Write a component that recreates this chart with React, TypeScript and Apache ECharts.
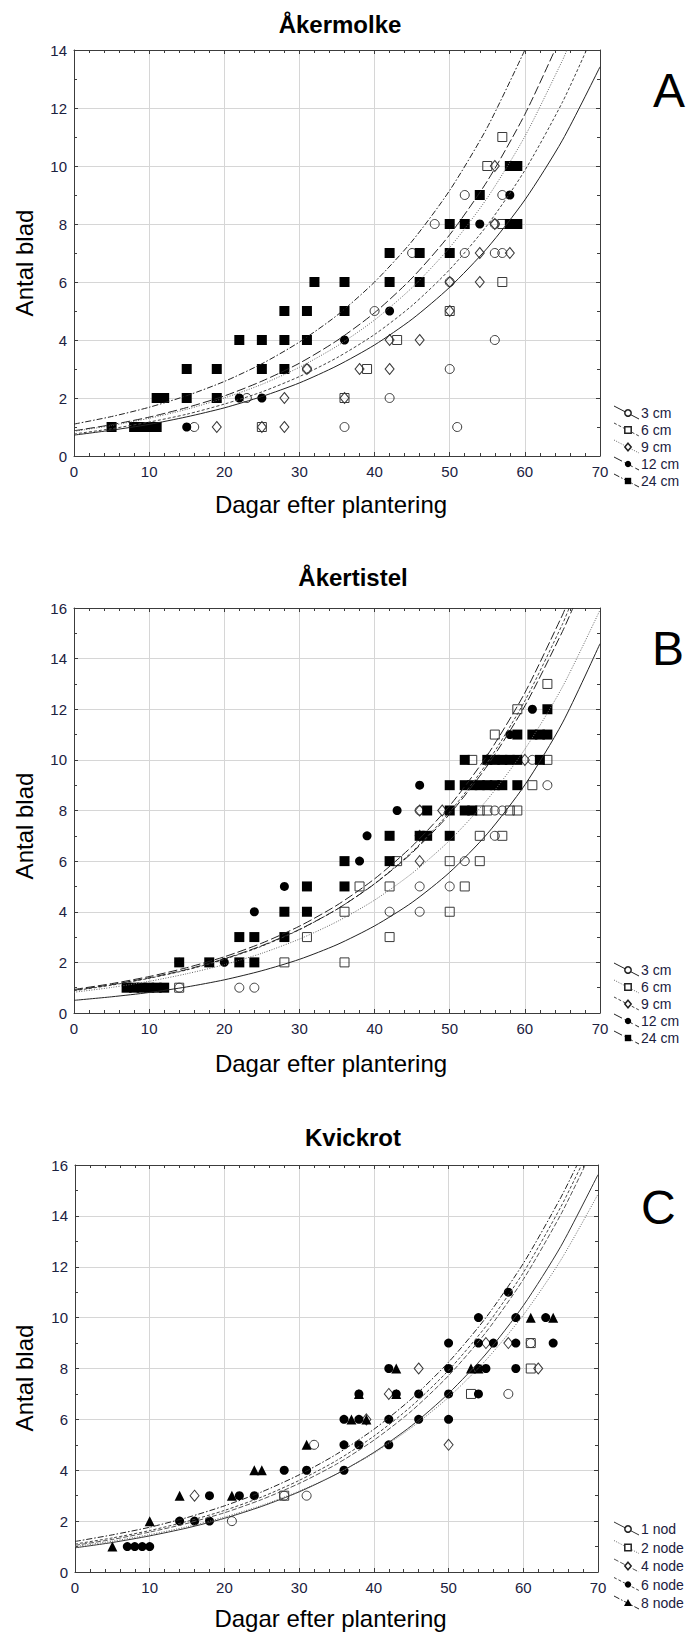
import React, { useEffect, useRef } from "react";
import * as echarts from "echarts";

type P = [number, number];

// ---------- Panel A: Åkermolke ----------
const A_3cm: P[] = [[16,1],[36,1],[51,1],[23,2],[42,2],[31,3],[50,3],[56,4],[40,5],[50,6],[45,7],[52,7],[56,7],[57,7],[48,8],[56,8],[52,9],[57,9]];
const A_6cm: P[] = [[25,1],[36,2],[39,3],[43,4],[50,5],[57,6],[57,8],[55,10],[57,11]];
const A_9cm: P[] = [[19,1],[25,1],[28,1],[28,2],[36,2],[31,3],[38,3],[42,3],[42,4],[46,4],[50,5],[50,6],[54,6],[54,7],[58,7],[56,8],[56,10]];
const A_12cm: P[] = [[15,1],[22,2],[25,2],[36,4],[42,5],[54,8],[58,9],[58,10]];
const A_24cm: P[] = [[5,1],[8,1],[9,1],[10,1],[11,1],[11,2],[12,2],[15,2],[19,2],[15,3],[19,3],[25,3],[28,3],[22,4],[25,4],[28,4],[31,4],[28,5],[31,5],[36,5],[32,6],[36,6],[42,6],[46,6],[42,7],[46,7],[50,7],[50,8],[52,8],[58,8],[59,8],[54,9],[58,10],[59,10]];
const A_fit3cm: P[] = [[0,0.72],[5,0.89],[10,1.09],[15,1.35],[20,1.66],[25,2.05],[30,2.52],[35,3.11],[40,3.83],[45,4.72],[50,5.82],[55,7.17],[60,8.83],[65,10.89],[70,13.42]];
const A_fit6cm: P[] = [[0,0.76],[5,0.94],[10,1.17],[15,1.44],[20,1.79],[25,2.21],[30,2.74],[35,3.39],[40,4.19],[45,5.19],[50,6.43],[55,7.96],[60,9.85],[65,12.2],[68.2,14]];
const A_fit9cm: P[] = [[0,0.85],[5,1.05],[10,1.30],[15,1.61],[20,2.0],[25,2.47],[30,3.06],[35,3.79],[40,4.69],[45,5.81],[50,7.19],[55,8.9],[60,11.02],[65,13.64],[65.6,14]];
const A_fit12cm: P[] = [[0,0.87],[5,1.08],[10,1.34],[15,1.67],[20,2.07],[25,2.58],[30,3.20],[35,3.98],[40,4.94],[45,6.14],[50,7.63],[55,9.48],[60,11.78],[64,14]];
const A_fit24cm: P[] = [[0,1.10],[5,1.36],[10,1.68],[15,2.08],[20,2.57],[25,3.18],[30,3.93],[35,4.85],[40,6.0],[45,7.41],[50,9.16],[55,11.33],[60,14]];

// ---------- Panel B: Åkertistel ----------
const B_3cm: P[] = [[14,1],[22,1],[24,1],[42,4],[46,4],[46,5],[50,5],[52,6],[56,7],[46,8],[56,8],[57,8],[63,9],[61,10]];
const B_6cm: P[] = [[14,1],[28,2],[36,2],[31,3],[42,3],[36,4],[50,4],[38,5],[42,5],[52,5],[43,6],[50,6],[54,6],[54,7],[57,7],[54,8],[55,8],[58,8],[59,8],[61,9],[53,10],[63,10],[56,11],[59,12],[63,13]];
const B_9cm: P[] = [[46,6],[46,7],[46,8],[49,8],[55,10],[60,10]];
const B_12cm: P[] = [[14,2],[20,2],[24,4],[28,5],[38,6],[39,7],[43,8],[46,9],[58,11],[61,12]];
const B_24cm: P[] = [[7,1],[8,1],[9,1],[10,1],[11,1],[12,1],[14,2],[18,2],[22,2],[24,2],[22,3],[24,3],[28,3],[28,4],[31,4],[31,5],[36,5],[36,6],[42,6],[42,7],[46,7],[47,7],[50,7],[47,8],[50,8],[52,8],[53,8],[50,9],[52,9],[53,9],[54,9],[55,9],[56,9],[57,9],[59,9],[52,10],[55,10],[56,10],[57,10],[58,10],[59,10],[62,10],[59,11],[61,11],[62,11],[63,11],[63,12]];
const B_fit3cm: P[] = [[0,0.5],[5,0.64],[10,0.81],[15,1.03],[20,1.31],[25,1.67],[30,2.12],[35,2.70],[40,3.44],[45,4.37],[50,5.56],[55,7.08],[60,9.01],[65,11.46],[70,14.59]];
const B_fit6cm: P[] = [[0,0.82],[5,1.01],[10,1.25],[15,1.55],[20,1.91],[25,2.36],[30,2.92],[35,3.61],[40,4.46],[45,5.52],[50,6.82],[55,8.43],[60,10.42],[65,12.88],[70,15.92]];
const B_fit9cm: P[] = [[0,0.88],[5,1.10],[10,1.37],[15,1.70],[20,2.12],[25,2.64],[30,3.29],[35,4.10],[40,5.11],[45,6.37],[50,7.94],[55,9.89],[60,12.33],[65,15.36],[65.9,16]];
const B_fit12cm: P[] = [[0,0.9],[5,1.12],[10,1.39],[15,1.72],[20,2.14],[25,2.66],[30,3.30],[35,4.10],[40,5.10],[45,6.33],[50,7.86],[55,9.77],[60,12.13],[65,15.07],[66.4,16]];
const B_fit24cm: P[] = [[0,0.93],[5,1.16],[10,1.44],[15,1.79],[20,2.22],[25,2.76],[30,3.43],[35,4.26],[40,5.30],[45,6.59],[50,8.19],[55,10.18],[60,12.65],[65,15.72],[65.4,16]];

// ---------- Panel C: Kvickrot ----------
const C_1nod: P[] = [[21,2],[28,3],[31,3],[32,5],[58,7],[61,9]];
const C_2node: P[] = [[28,3],[53,7],[61,8],[61,9]];
const C_4node: P[] = [[16,3],[39,6],[42,7],[46,8],[50,5],[55,9],[58,9],[62,8]];
const C_6node: P[] = [[7,1],[8,1],[9,1],[10,1],[14,2],[16,2],[18,2],[18,3],[22,3],[24,3],[28,4],[31,4],[36,4],[36,5],[38,5],[42,5],[36,6],[38,6],[42,6],[46,6],[50,6],[38,7],[43,7],[46,7],[50,7],[54,7],[42,8],[50,8],[54,8],[55,8],[59,8],[50,9],[54,9],[56,9],[59,9],[64,9],[54,10],[59,10],[63,10],[58,11]];
const C_8node: P[] = [[5,1],[10,2],[14,3],[21,3],[24,4],[25,4],[31,5],[37,6],[39,6],[38,7],[43,7],[43,8],[53,8],[54,8],[61,10],[64,10]];
const C_fit1nod: P[] = [[0,0.95],[5,1.16],[10,1.42],[15,1.73],[20,2.11],[25,2.58],[30,3.15],[35,3.85],[40,4.70],[45,5.74],[50,7.02],[55,8.57],[60,10.47],[65,12.79],[70,15.62]];
const C_fit2node: P[] = [[0,1.0],[5,1.21],[10,1.47],[15,1.78],[20,2.16],[25,2.62],[30,3.18],[35,3.85],[40,4.67],[45,5.67],[50,6.87],[55,8.33],[60,10.1],[65,12.25],[70,14.85]];
const C_fit4node: P[] = [[0,1.05],[5,1.28],[10,1.57],[15,1.91],[20,2.33],[25,2.85],[30,3.48],[35,4.24],[40,5.18],[45,6.32],[50,7.72],[55,9.42],[60,11.5],[65,14.04],[68.3,16]];
const C_fit6node: P[] = [[0,1.1],[5,1.34],[10,1.63],[15,1.99],[20,2.42],[25,2.95],[30,3.60],[35,4.38],[40,5.34],[45,6.51],[50,7.93],[55,9.66],[60,11.77],[65,14.34],[67.8,16]];
const C_fit8node: P[] = [[0,1.2],[5,1.46],[10,1.76],[15,2.14],[20,2.60],[25,3.15],[30,3.82],[35,4.63],[40,5.61],[45,6.80],[50,8.25],[55,10.0],[60,12.13],[65,14.71],[67.2,16]];

const xTicks = { min: 0, max: 70, interval: 10 };
const AXIS_TITLE_X = "Dagar efter plantering";
const AXIS_TITLE_Y = "Antal blad";

// ---------- styles ----------
const LABEL_COLOR = "#1b2140";
const SANS = "'Liberation Sans', Arial, sans-serif";

type MarkerKey = "oc" | "os" | "od" | "fc" | "fs" | "ft";
const OPEN = { color: "rgba(255,255,255,0)", borderColor: "#3a3a3a", borderWidth: 1, opacity: 1 };
const FILLED = { color: "#000", opacity: 1 };
const MARKERS: Record<MarkerKey, any> = {
  oc: { symbol: "circle", symbolSize: 9, itemStyle: OPEN },
  os: { symbol: "rect", symbolSize: 9, itemStyle: OPEN },
  od: { symbol: "diamond", symbolSize: [9, 11], itemStyle: OPEN },
  fc: { symbol: "circle", symbolSize: 9, itemStyle: FILLED },
  fs: { symbol: "rect", symbolSize: 10, itemStyle: FILLED },
  ft: { symbol: "triangle", symbolSize: 10, itemStyle: FILLED },
};

type LineStyle = { dash: number[] | "solid"; color: string; width?: number };
const L_SOLID: LineStyle = { dash: "solid", color: "#222" };
const L_SOLID2: LineStyle = { dash: "solid", color: "#333" };
const L_SHORT: LineStyle = { dash: [3, 2], color: "#444" };
const L_DOT: LineStyle = { dash: [1, 1.5], color: "#666" };
const L_LONG: LineStyle = { dash: [9, 3], color: "#222" };
const L_DASHDOT: LineStyle = { dash: [6, 2, 1.5, 2], color: "#222" };
const L_MED: LineStyle = { dash: [5, 2], color: "#555" };

type SeriesDef = { name: string; points: P[]; fit: P[]; marker: MarkerKey; line: LineStyle };
type PanelDef = {
  grid: { left: number; top: number; width: number; height: number };
  ymax: number;
  title: string; titleX: number; titleY: number;
  xTitleY: number; yTitleY: number;
  letter: string; letterX: number; letterY: number;
  legendY0: number; legendStep: number;
  series: SeriesDef[];
};

const PANELS: PanelDef[] = [
  {
    grid: { left: 74, top: 50, width: 526, height: 406 }, ymax: 14,
    title: "Åkermolke", titleX: 340, titleY: 24, xTitleY: 504, yTitleY: 263,
    letter: "A", letterX: 653, letterY: 90, legendY0: 413, legendStep: 17,
    series: [
      { name: "3 cm", points: A_3cm, fit: A_fit3cm, marker: "oc", line: L_SOLID },
      { name: "6 cm", points: A_6cm, fit: A_fit6cm, marker: "os", line: L_SHORT },
      { name: "9 cm", points: A_9cm, fit: A_fit9cm, marker: "od", line: L_DOT },
      { name: "12 cm", points: A_12cm, fit: A_fit12cm, marker: "fc", line: L_LONG },
      { name: "24 cm", points: A_24cm, fit: A_fit24cm, marker: "fs", line: L_DASHDOT },
    ],
  },
  {
    grid: { left: 74, top: 608, width: 526, height: 405 }, ymax: 16,
    title: "Åkertistel", titleX: 353, titleY: 577, xTitleY: 1063, yTitleY: 826,
    letter: "B", letterX: 652, letterY: 648, legendY0: 970, legendStep: 17,
    series: [
      { name: "3 cm", points: B_3cm, fit: B_fit3cm, marker: "oc", line: L_SOLID },
      { name: "6 cm", points: B_6cm, fit: B_fit6cm, marker: "os", line: L_DOT },
      { name: "9 cm", points: B_9cm, fit: B_fit9cm, marker: "od", line: L_SHORT },
      { name: "12 cm", points: B_12cm, fit: B_fit12cm, marker: "fc", line: L_LONG },
      { name: "24 cm", points: B_24cm, fit: B_fit24cm, marker: "fs", line: L_LONG },
    ],
  },
  {
    grid: { left: 75, top: 1165, width: 523, height: 407 }, ymax: 16,
    title: "Kvickrot", titleX: 353, titleY: 1137, xTitleY: 1618, yTitleY: 1378,
    letter: "C", letterX: 641, letterY: 1207, legendY0: 1529, legendStep: 18.5,
    series: [
      { name: "1 nod", points: C_1nod, fit: C_fit1nod, marker: "oc", line: L_SOLID2 },
      { name: "2 node", points: C_2node, fit: C_fit2node, marker: "os", line: L_DOT },
      { name: "4 node", points: C_4node, fit: C_fit4node, marker: "od", line: L_MED },
      { name: "6 node", points: C_6node, fit: C_fit6node, marker: "fc", line: L_SHORT },
      { name: "8 node", points: C_8node, fit: C_fit8node, marker: "ft", line: L_DASHDOT },
    ],
  },
];

function legendSymbol(m: MarkerKey, cx: number, cy: number): any {
  const open = m === "oc" || m === "os" || m === "od";
  const style = open ? { fill: "#fff", stroke: "#222", lineWidth: 1.5 } : { fill: "#000" };
  if (m === "oc" || m === "fc") return { type: "circle", shape: { cx, cy, r: 3.2 }, style, z: 10 };
  if (m === "os" || m === "fs") return { type: "rect", shape: { x: cx - 3.2, y: cy - 3.2, width: 6.4, height: 6.4 }, style, z: 10 };
  if (m === "od") return { type: "polygon", shape: { points: [[cx, cy - 3.8], [cx + 3.2, cy], [cx, cy + 3.8], [cx - 3.2, cy]] }, style, z: 10 };
  return { type: "polygon", shape: { points: [[cx, cy - 4], [cx + 4, cy + 3], [cx - 4, cy + 3]] }, style, z: 10 };
}

function buildOption() {
  const grid: any[] = [];
  const xAxis: any[] = [];
  const yAxis: any[] = [];
  const series: any[] = [];
  const graphic: any[] = [];
  const frameColor = "#3c3c3c";

  PANELS.forEach((p, i) => {
    grid.push({ ...p.grid, containLabel: false });
    const common = {
      type: "value",
      gridIndex: i,
      axisLine: { show: true, onZero: false, lineStyle: { color: frameColor, width: 1 } },
      axisTick: { show: true, inside: true, length: 4, lineStyle: { color: frameColor } },
    };
    xAxis.push({
      ...common, ...xTicks, position: "bottom",
      minorTick: { show: true, splitNumber: 5, length: 3, lineStyle: { color: frameColor } },
      splitLine: { show: true, lineStyle: { color: "#d6d6d6", width: 1 } },
      axisLabel: { show: true, fontSize: 15, fontFamily: SANS, color: LABEL_COLOR, margin: 8 },
    });
    xAxis.push({
      ...common, ...xTicks, position: "top",
      minorTick: { show: true, splitNumber: 5, length: 3, lineStyle: { color: frameColor } },
      splitLine: { show: false }, axisLabel: { show: false },
    });
    yAxis.push({
      ...common, min: 0, max: p.ymax, interval: 2, position: "left",
      minorTick: { show: true, splitNumber: 2, length: 3, lineStyle: { color: frameColor } },
      splitLine: { show: true, lineStyle: { color: "#d6d6d6", width: 1 } },
      axisLabel: { show: true, fontSize: 15, fontFamily: SANS, color: LABEL_COLOR, margin: 7 },
    });
    yAxis.push({
      ...common, min: 0, max: p.ymax, interval: 2, position: "right",
      minorTick: { show: true, splitNumber: 2, length: 3, lineStyle: { color: frameColor } },
      splitLine: { show: false }, axisLabel: { show: false },
    });

    p.series.forEach((s) => {
      const mk = MARKERS[s.marker];
      series.push({
        type: "scatter", name: s.name, xAxisIndex: 2 * i, yAxisIndex: 2 * i,
        data: s.points, symbol: mk.symbol, symbolSize: mk.symbolSize, itemStyle: mk.itemStyle,
        silent: true, z: 3,
      });
      series.push({
        type: "line", name: s.name + " fit", xAxisIndex: 2 * i, yAxisIndex: 2 * i,
        data: s.fit, showSymbol: false, symbol: "none", smooth: 0.25,
        lineStyle: { color: s.line.color, width: s.line.width ?? 1, type: s.line.dash, opacity: 1 },
        silent: true, z: 4, clip: true,
      });
    });

    graphic.push({
      type: "text", x: p.titleX, y: p.titleY,
      style: { text: p.title, fontSize: 24, fontWeight: "bold", fontFamily: SANS, fill: "#000", align: "center", verticalAlign: "middle" },
    });
    graphic.push({
      type: "text", x: p.grid.left + p.grid.width / 2 - 6, y: p.xTitleY,
      style: { text: AXIS_TITLE_X, fontSize: 24, fontFamily: SANS, fill: "#000", align: "center", verticalAlign: "middle" },
    });
    graphic.push({
      type: "text", x: 24, y: p.yTitleY, rotation: Math.PI / 2,
      style: { text: AXIS_TITLE_Y, fontSize: 24, fontFamily: SANS, fill: "#000", align: "center", verticalAlign: "middle" },
    });
    graphic.push({
      type: "text", x: p.letterX, y: p.letterY,
      style: { text: p.letter, fontSize: 48, fontFamily: SANS, fill: "#000", align: "left", verticalAlign: "middle" },
    });

    p.series.forEach((s, k) => {
      const cy = p.legendY0 + k * p.legendStep;
      const cx = 628;
      graphic.push({
        type: "line", shape: { x1: 614, y1: cy - 7, x2: 639, y2: cy + 6 },
        style: { stroke: s.line.color, lineWidth: 1, lineDash: s.line.dash === "solid" ? null : s.line.dash },
      });
      graphic.push(legendSymbol(s.marker, cx, cy));
      graphic.push({
        type: "text", x: 641, y: cy,
        style: { text: s.name, fontSize: 14, fontFamily: SANS, fill: LABEL_COLOR, align: "left", verticalAlign: "middle" },
      });
    });
  });

  return {
    animation: false,
    backgroundColor: "#fff",
    grid, xAxis, yAxis, series, graphic,
  };
}

export default function App() {
  const ref = useRef<HTMLDivElement>(null);
  useEffect(() => {
    if (!ref.current) return;
    const chart = echarts.init(ref.current, undefined, { renderer: "svg" });
    chart.setOption(buildOption() as any);
    return () => chart.dispose();
  }, []);
  return (
    <div
      ref={ref}
      style={{ position: "absolute", left: 0, top: 0, width: 687, height: 1634, background: "#fff" }}
    />
  );
}
